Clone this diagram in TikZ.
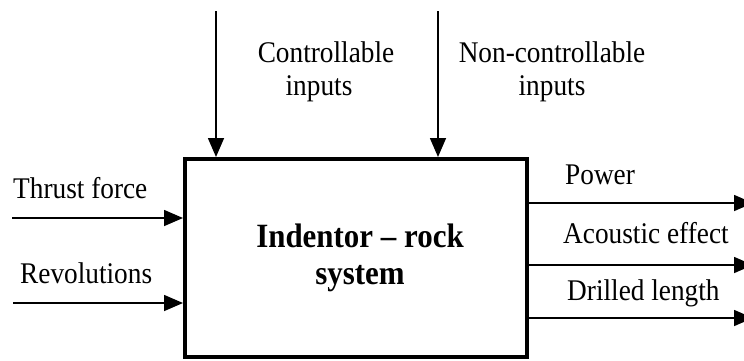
\documentclass[tikz,border=0pt]{standalone}
\usepackage{fontspec}
\setmainfont[FakeStretch=0.91]{Liberation Serif}
\usetikzlibrary{arrows.meta}
\begin{document}
\begin{tikzpicture}[x=1pt,y=-1pt,
  lbl/.style={inner sep=0pt,font=\fontsize{30}{33}\selectfont},
  ttl/.style={inner sep=0pt,font=\fontsize{34}{36}\selectfont\bfseries},
  sysbox/.style={draw,line width=4pt,minimum width=342pt,minimum height=198pt,inner sep=0pt},
  flow/.style={line width=1.6pt,-{Triangle[length=19pt,width=16pt]}}]
\useasboundingbox (0,0) rectangle (744,360);
\fill[white] (0,0) rectangle (744,360);
\node[sysbox] (box) at (356,258) {};
\node[ttl,anchor=base] (t1) at (360,247) {Indentor – rock};
\node[ttl,anchor=base] (t2) at (360,284) {system};
% top inputs
\coordinate (c1) at (216,11);
\coordinate (c2) at (438,11);
\draw[flow] (c1) -- (c1 |- box.north);
\draw[flow] (c2) -- (c2 |- box.north);
\node[lbl,anchor=base] (ci1) at (326,62) {Controllable};
\node[lbl,anchor=base] (ci2) at (319,95) {inputs};
\node[lbl,anchor=base] (ni1) at (552,62) {Non-controllable};
\node[lbl,anchor=base] (ni2) at (552,95) {inputs};
% left inputs
\coordinate (l1) at (12,218);
\coordinate (l2) at (13,303);
\draw[flow] (l1) -- (l1 -| box.west);
\draw[flow] (l2) -- (l2 -| box.west);
\node[lbl,anchor=base west] (thr) at (13,198) {Thrust force};
\node[lbl,anchor=base west] (rev) at (20,283) {Revolutions};
% outputs
\coordinate (o1) at (753,203);
\coordinate (o2) at (753,265);
\coordinate (o3) at (753,318);
\draw[flow] (o1 -| box.east) -- (o1);
\draw[flow] (o2 -| box.east) -- (o2);
\draw[flow] (o3 -| box.east) -- (o3);
\node[lbl,anchor=base west] (pow) at (565,184) {Power};
\node[lbl,anchor=base west] (aco) at (563,243) {Acoustic effect};
\node[lbl,anchor=base west] (dri) at (567,300) {Drilled length};
\end{tikzpicture}
\end{document}
